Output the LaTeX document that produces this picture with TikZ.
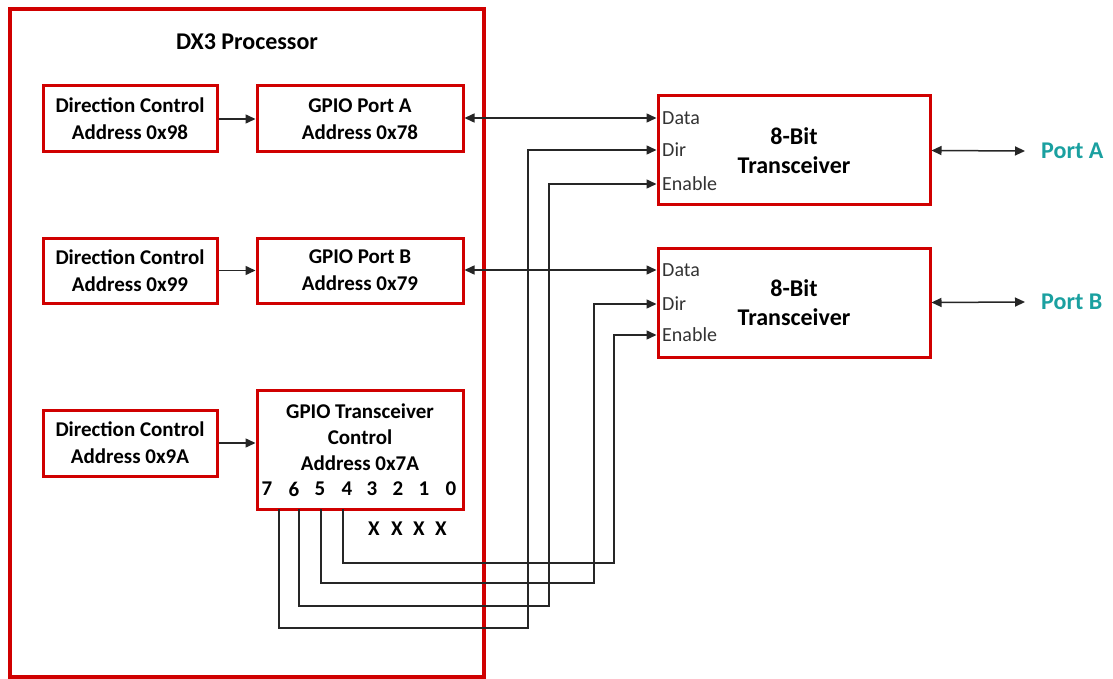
\documentclass[tikz,border=0pt]{standalone}
\usepackage{fontspec}
\setmainfont{Carlito}
\usetikzlibrary{arrows.meta,calc}
\definecolor{boxred}{RGB}{208,0,0}
\definecolor{portteal}{RGB}{26,160,160}
\tikzset{
  onearr/.style={-{Stealth[length=10pt,width=9pt,inset=0pt]}},
  twoarr/.style={{Stealth[length=10pt,width=9pt,inset=0pt]}-{Stealth[length=10pt,width=9pt,inset=0pt]}}
}
\begin{document}
\begin{tikzpicture}[x=1pt,y=-1pt,
  outer/.style={draw=boxred, line width=4.5pt, inner sep=0pt},
  box/.style={draw=boxred, line width=3pt, align=center, inner sep=0pt,
    font=\fontsize{21}{27}\selectfont\bfseries},
  plain/.style={align=center, inner sep=0pt, font=\fontsize{21}{26}\selectfont\bfseries},
  ttl/.style={inner sep=0pt, font=\fontsize{24}{28}\selectfont\bfseries},
  xcvr/.style={draw=boxred, line width=3pt, align=center, inner sep=0pt,
    minimum width=272pt, minimum height=109pt,
    font=\fontsize{24}{29}\selectfont\bfseries},
  pinlbl/.style={anchor=west, inner sep=0pt, text=black!80,
    font=\fontsize{20}{24}\selectfont},
  portlbl/.style={anchor=west, inner sep=0pt, text=portteal,
    font=\fontsize{24}{28}\selectfont\bfseries},
  wire/.style={line width=1.5pt, draw=black!85}
]
\useasboundingbox (0,0) rectangle (1113,679);
\fill[white] (0,0) rectangle (1113,679);

% processor
\node[outer, minimum width=474pt, minimum height=668pt] (proc) at (247,343) {};
\node[ttl] (title) at (247,42) {DX3 Processor};

\node[box, minimum width=174pt, minimum height=66pt] (dc1) at (130,119) {Direction Control\\Address 0x98};
\node[box, minimum width=206pt, minimum height=66pt] (gpa) at (360,119) {GPIO Port A\\Address 0x78};
\node[box, minimum width=174pt, minimum height=65pt] (dc2) at (130,270.5) {Direction Control\\Address 0x99};
\node[box, minimum width=206pt, minimum height=65pt] (gpb) at (360,270.5) {GPIO Port B\\Address 0x79};
\node[box, minimum width=174pt, minimum height=66pt] (dc3) at (130,443) {Direction Control\\Address 0x9A};
\node[box, minimum width=206pt, minimum height=119pt] (tc) at (360,449.5) {};
\node[plain] (tctext) at (360,437) {GPIO Transceiver\\Control\\Address 0x7A};
\foreach \b/\x in {7/267,6/294,5/320,4/347,3/372,2/398,1/424,0/451}
  \node[plain] (b\b) at (\x,489) {\b};
\foreach \i/\x in {1/374,2/397,3/419,4/441}
  \node[plain] (xx\i) at (\x,529) {X};

\draw[wire,onearr] (dc1) -- (gpa);
\draw[wire,onearr] (dc2) -- (gpb);
\draw[wire,onearr] (dc3.east) -- (dc3.east -| tc.west);

% transceivers
\node[xcvr] (tA) at (794,150.5) {8-Bit\\Transceiver};
\node[xcvr] (tB) at (794,302.5) {8-Bit\\Transceiver};
\node[pinlbl] (dataA) at (662,118) {Data};
\node[pinlbl] (dirA) at (662,150) {Dir};
\node[pinlbl] (enA) at (662,184) {Enable};
\node[pinlbl] (dataB) at (662,270) {Data};
\node[pinlbl] (dirB) at (662,304) {Dir};
\node[pinlbl] (enB) at (662,335) {Enable};

\node[portlbl] (pA) at (1041,151) {Port A};
\node[portlbl] (pB) at (1041,302) {Port B};

% data buses
\draw[wire,twoarr] (gpa.east |- dataA) -- (tA.west |- dataA);
\draw[wire,twoarr] (gpb.east |- dataB) -- (tB.west |- dataB);
\draw[wire,twoarr] (tA.east) -- ($(pA.west)+(-16,0)$);
\draw[wire,twoarr] (tB.east) -- ($(pB.west)+(-16,0)$);

% control bits
\coordinate (s7) at (279,509);
\coordinate (s6) at (299,509);
\coordinate (s5) at (321,509);
\coordinate (s4) at (343,509);
\coordinate (c7) at (528,628);
\coordinate (c6) at (549,606);
\coordinate (c5) at (594,583);
\coordinate (c4) at (614,563);
\draw[wire,onearr] (s7) |- (c7) |- (tA.west |- dirA);
\draw[wire,onearr] (s6) |- (c6) |- (tA.west |- enA);
\draw[wire,onearr] (s5) |- (c5) |- (tB.west |- dirB);
\draw[wire,onearr] (s4) |- (c4) |- (tB.west |- enB);
\end{tikzpicture}
\end{document}
